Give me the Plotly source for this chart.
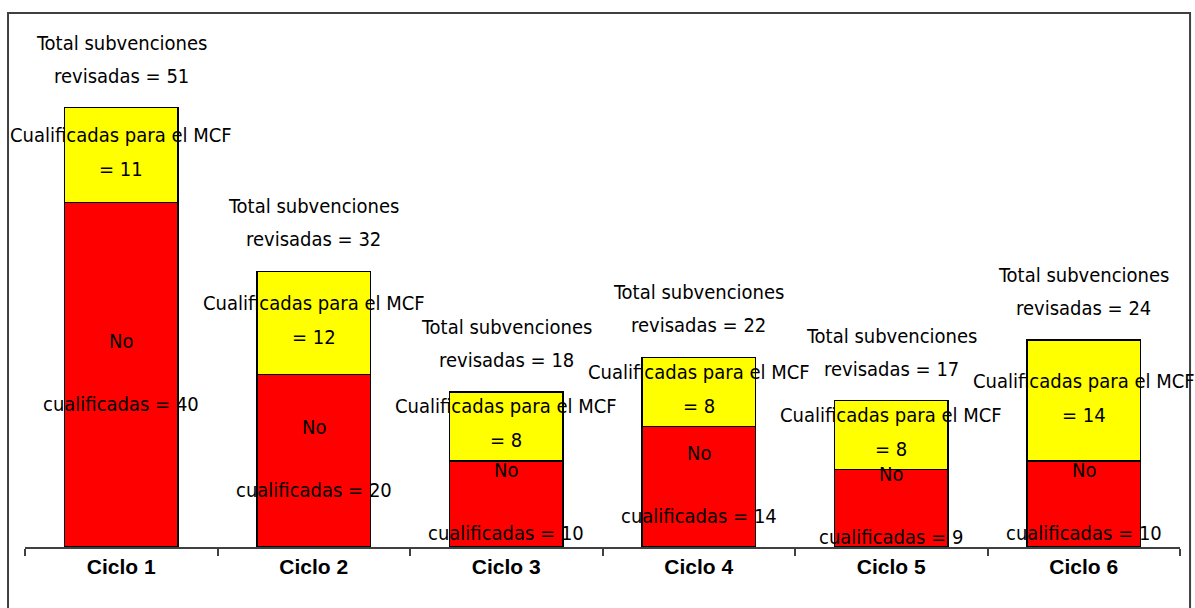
import plotly.graph_objects as go

ciclos = ["Ciclo 1", "Ciclo 2", "Ciclo 3", "Ciclo 4", "Ciclo 5", "Ciclo 6"]
no_cualificadas = [40, 20, 10, 14, 9, 10]
cualificadas = [11, 12, 8, 8, 8, 14]
totales = [a + b for a, b in zip(no_cualificadas, cualificadas)]

LABEL_FONT = dict(family="DejaVu Sans Condensed, DejaVu Sans, sans-serif", size=20, color="black")

fig = go.Figure()
fig.add_trace(go.Bar(
    x=ciclos, y=no_cualificadas, name="No cualificadas",
    marker=dict(color="#FF0000", line=dict(color="black", width=1.5)),
))
fig.add_trace(go.Bar(
    x=ciclos, y=cualificadas, name="Cualificadas para el MCF",
    marker=dict(color="#FFFF00", line=dict(color="black", width=1.5)),
))

# text boxes: each line is its own annotation so the wide line spacing matches
for c, no, si, tot in zip(ciclos, no_cualificadas, cualificadas, totales):
    lines = [
        ("Total subvenciones", tot, 65),
        (f"revisadas = {tot}", tot, 32),
        ("Cualificadas para el MCF", no + si / 2, 20),
        (f"= {si}", no + si / 2, -14),
        ("No", no / 2, 34),
        (f"cualificadas = {no}", no / 2, -29),
    ]
    for text, y, shift in lines:
        fig.add_annotation(
            x=c, y=y, yshift=shift, text=text, showarrow=False,
            xanchor="center", yanchor="middle", font=LABEL_FONT,
        )

# outer frame of the chart area
fig.add_shape(
    type="rect", xref="paper", yref="paper",
    x0=-0.0147, x1=1.0087, y0=-0.2, y1=1.033,
    line=dict(color="#404040", width=2), fillcolor="rgba(0,0,0,0)", layer="below",
)

fig.update_layout(
    barmode="stack",
    bargap=0.41,
    width=1195,
    height=608,
    showlegend=False,
    paper_bgcolor="white",
    plot_bgcolor="white",
    margin=dict(l=25, r=15, t=30, b=61),
)
fig.update_xaxes(
    range=[-0.5, len(ciclos) - 0.5],
    showline=True, linecolor="#404040", linewidth=1.5,
    ticks="outside", tickson="boundaries", ticklen=7, tickcolor="#404040", tickwidth=1.5,
    tickfont=dict(family="Liberation Sans, Arial, sans-serif", size=21, color="black", weight="bold"),
    showgrid=False, zeroline=False,
)
fig.update_yaxes(range=[0, 60], visible=False, showgrid=False, zeroline=False)

# page body margin off so the figure fills the window exactly
fig.write_html(
    "out.html",
    config={"displayModeBar": False},
    post_script="document.body.style.margin='0';document.body.style.overflow='hidden';",
)
